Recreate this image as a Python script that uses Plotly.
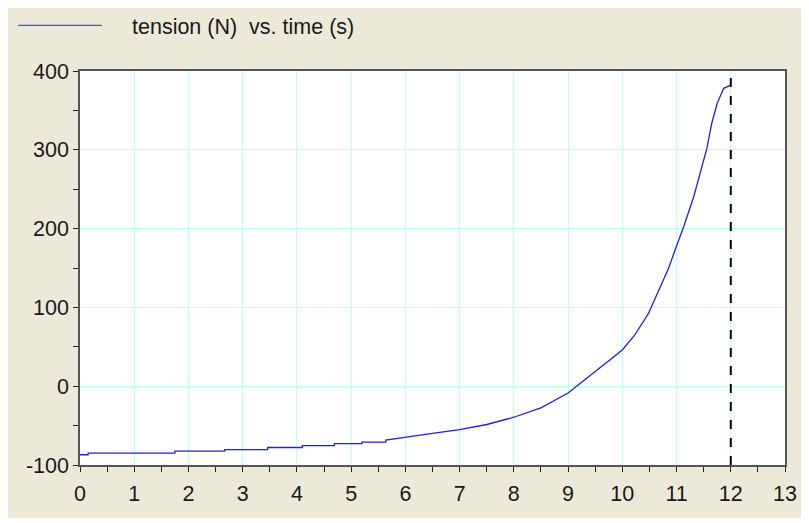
import plotly.graph_objects as go

# tension (N), early part is a staircase
time_s = [0, 0.15, 0.15, 1.75, 1.75, 2.67, 2.67, 3.46, 3.46, 4.1, 4.1, 4.69, 4.69,
          5.2, 5.2, 5.64, 5.64, 6.0, 6.5, 7.0, 7.5, 8.0, 8.5, 9.0, 9.5, 9.83, 10.0,
          10.23, 10.48, 10.66, 10.85, 11.0, 11.13, 11.32, 11.44, 11.56, 11.65,
          11.75, 11.87, 12.0]
tension_n = [-87, -87, -85, -85, -82.5, -82.5, -80.4, -80.4, -77.8, -77.8, -75.4,
             -75.4, -72.9, -72.9, -70.9, -70.9, -68.3, -64.5, -60, -55, -48.6, -39.4,
             -27.5, -8.6, 18.6, 37, 46, 65, 92, 120, 149, 178, 202, 241, 271, 302,
             334, 359, 378, 382]
end_time = 12
x_ticks = list(range(0, 14))
y_ticks = [-100, 0, 100, 200, 300, 400]
y_labels = ["-100", "0", "100", "200", "300", "400"]

BEIGE = "#ECE9D8"
GRID = "#BCFFFF"
AXIS = "#555555"
FONT = "Liberation Sans, Arial, sans-serif"

fig = go.Figure()
fig.add_trace(go.Scatter(
    x=time_s, y=tension_n, mode="lines",
    line=dict(color="#2020E0", width=1.3),
    showlegend=False, hoverinfo="x+y",
))

# end-of-run marker
fig.add_shape(type="line", xref="x", yref="paper", x0=end_time, x1=end_time,
              y0=0, y1=1, line=dict(color="black", width=2, dash="dash"))

# legend drawn by hand (long sample line)
fig.add_shape(type="line", xref="paper", yref="paper", x0=-0.0876, x1=0.031,
              y0=1.116, y1=1.116, line=dict(color="#5050E8", width=1.2))
fig.add_annotation(xref="paper", yref="paper", x=0.0706, y=1.111, xanchor="left",
                   yanchor="middle", showarrow=False,
                   text="tension (N)\u00a0\u00a0vs. time (s)",
                   font=dict(family=FONT, size=21.5, color="#1a1a1a"))

fig.update_xaxes(
    range=[0, 13], tickvals=x_ticks, showgrid=True, gridcolor=GRID, gridwidth=1,
    showline=True, linecolor=AXIS, linewidth=1.5, mirror=True,
    ticks="outside", ticklen=5, tickcolor="#222", zeroline=False,
    minor=dict(dtick=0.5, ticks="outside", ticklen=5, tickcolor="#222", showgrid=False),
    tickfont=dict(family=FONT, size=21.5, color="#1a1a1a"), ticklabelstandoff=3,
)
fig.update_yaxes(
    range=[-100, 400], tickvals=y_ticks, ticktext=y_labels,
    showgrid=True, gridcolor=GRID, gridwidth=1,
    showline=True, linecolor=AXIS, linewidth=1.5, mirror=True,
    ticks="outside", ticklen=5, tickcolor="#222", zeroline=False,
    minor=dict(dtick=50, ticks="outside", ticklen=5, tickcolor="#222", showgrid=False),
    tickfont=dict(family=FONT, size=21.5, color="#1a1a1a"),
)

# the page adds an 8px body margin, so the figure sits at (8, 8)
fig.update_layout(
    width=801, height=510,
    margin=dict(l=72, r=21, t=63, b=50),
    paper_bgcolor=BEIGE, plot_bgcolor="white",
    showlegend=False,
)

fig.write_html("out.html")
